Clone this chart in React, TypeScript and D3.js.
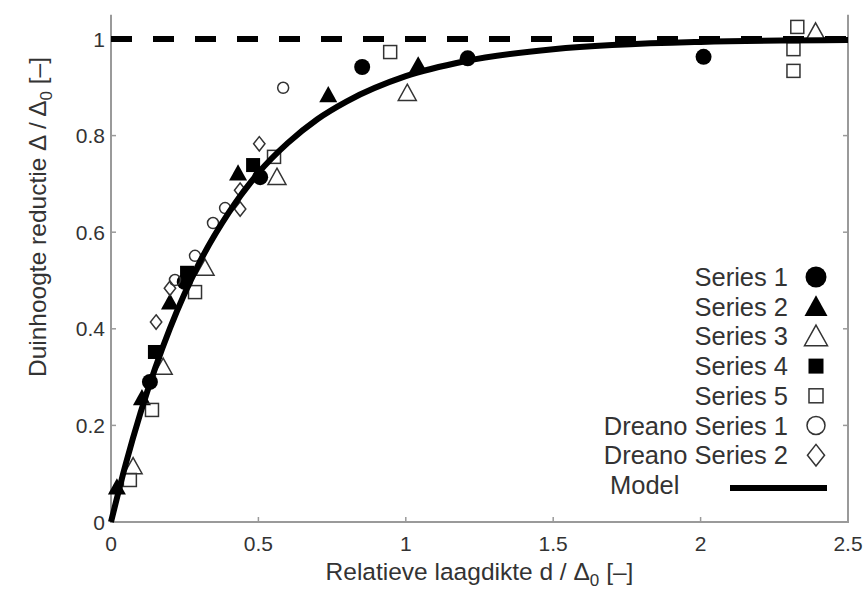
import React from "react";
import * as d3 from "d3";

const xTicks = [0, 0.5, 1, 1.5, 2, 2.5];
const yTicks = [0, 0.2, 0.4, 0.6, 0.8, 1];
const xTickLabels = ["0", "0.5", "1", "1.5", "2", "2.5"];
const yTickLabels = ["0", "0.2", "0.4", "0.6", "0.8", "1"];

const series1: [number, number][] = [[0.132, 0.29], [0.25, 0.497], [0.506, 0.714], [0.852, 0.942], [1.21, 0.96], [2.01, 0.963]];
const series2: [number, number][] = [[0.02, 0.072], [0.105, 0.257], [0.2, 0.455], [0.431, 0.722], [0.737, 0.884], [1.042, 0.946]];
const series3: [number, number][] = [[0.075, 0.115], [0.177, 0.321], [0.319, 0.526], [0.563, 0.714], [1.005, 0.888], [2.39, 1.015]];
const series4: [number, number][] = [[0.149, 0.352], [0.258, 0.516], [0.482, 0.739]];
const series5: [number, number][] = [[0.064, 0.087], [0.139, 0.232], [0.285, 0.476], [0.553, 0.756], [0.947, 0.973], [2.315, 0.979], [2.315, 0.934], [2.328, 1.025]];
const dreano1: [number, number][] = [[0.217, 0.501], [0.285, 0.551], [0.346, 0.619], [0.387, 0.65], [0.584, 0.899]];
const dreano2: [number, number][] = [[0.153, 0.414], [0.2, 0.484], [0.438, 0.648], [0.438, 0.687], [0.503, 0.783]];

const modelX = [0, 0.05, 0.1, 0.15, 0.2, 0.3, 0.4, 0.5, 0.6, 0.7, 0.8, 1.0, 1.2, 1.5, 2.0, 2.5];
const modelY = [0, 0.12, 0.226, 0.319, 0.401, 0.537, 0.641, 0.723, 0.785, 0.834, 0.871, 0.923, 0.954, 0.979, 0.994, 0.998];

const legendLabels = ["Series 1", "Series 2", "Series 3", "Series 4", "Series 5", "Dreano Series 1", "Dreano Series 2", "Model"];

type MType = "fcircle" | "ftri" | "otri" | "fsq" | "osq" | "ocirc" | "odiam";

const seriesDefs: { data: [number, number][]; type: MType }[] = [
  { data: series1, type: "fcircle" },
  { data: series2, type: "ftri" },
  { data: series3, type: "otri" },
  { data: series4, type: "fsq" },
  { data: series5, type: "osq" },
  { data: dreano1, type: "ocirc" },
  { data: dreano2, type: "odiam" },
];

const plotSize: Record<MType, number> = { fcircle: 8, ftri: 9, otri: 9, fsq: 7, osq: 6.5, ocirc: 5.5, odiam: 6 };
const legSize: Record<MType, number> = { fcircle: 10.5, ftri: 11.5, otri: 11.5, fsq: 7.5, osq: 7, ocirc: 9, odiam: 9 };

function Marker({ type, cx, cy, s }: { type: MType; cx: number; cy: number; s: number }) {
  const filled = type.startsWith("f");
  const fill = filled ? "#000" : "none";
  const stroke = filled ? "#000" : "#333";
  const sw = filled ? 0 : 1.5;
  if (type === "fcircle" || type === "ocirc") {
    return <circle cx={cx} cy={cy} r={s} fill={fill} stroke={stroke} strokeWidth={sw} />;
  }
  if (type === "ftri" || type === "otri") {
    const h = s * 1.8;
    const p = `M${cx},${cy - h * 0.55} L${cx + s},${cy + h * 0.45} L${cx - s},${cy + h * 0.45} Z`;
    return <path d={p} fill={fill} stroke={stroke} strokeWidth={sw} strokeLinejoin="miter" />;
  }
  if (type === "fsq" || type === "osq") {
    return <rect x={cx - s} y={cy - s} width={2 * s} height={2 * s} fill={fill} stroke={stroke} strokeWidth={sw} />;
  }
  const hw = s * 0.95;
  const hh = s * 1.2;
  const p = `M${cx},${cy - hh} L${cx + hw},${cy} L${cx},${cy + hh} L${cx - hw},${cy} Z`;
  return <path d={p} fill={fill} stroke={stroke} strokeWidth={sw} />;
}

export default function App() {
  const W = 867;
  const H = 591;
  const x = d3.scaleLinear().domain([0, 2.5]).range([111, 848]);
  const y = d3.scaleLinear().domain([0, 1.05]).range([522, 14.85]);
  const font = "'Liberation Sans', Arial, Helvetica, sans-serif";
  const axisColor = "#9a9a9a";

  const modelPts: [number, number][] = modelX.map((v, i) => [v, modelY[i]]);
  const line = d3
    .line<[number, number]>()
    .x((d) => x(d[0]))
    .y((d) => y(d[1]))
    .curve(d3.curveMonotoneX);

  const legX = 816;
  const legTextX = 788;
  const legY0 = 277;
  const legDy = 29.7;

  return (
    <svg width={W} height={H} style={{ position: "absolute", left: 0, top: 0, background: "#fff" }} fontFamily={font}>
      <rect x={0} y={0} width={W} height={H} fill="#fff" />
      {/* axes */}
      <line x1={x(0)} x2={x(0)} y1={y(1.05)} y2={y(0)} stroke={axisColor} strokeWidth={2} />
      <line x1={x(2.5)} x2={x(2.5)} y1={y(1.05)} y2={y(0)} stroke={axisColor} strokeWidth={2} />
      <line x1={x(0) - 1} x2={x(2.5) + 1} y1={y(0)} y2={y(0)} stroke={axisColor} strokeWidth={2} />
      {xTicks.map((t, i) => (
        <g key={"xt" + i}>
          <line x1={x(t)} x2={x(t)} y1={y(0)} y2={y(0) - 5} stroke={axisColor} strokeWidth={1.5} />
          <text x={x(t)} y={551} textAnchor="middle" fontSize={21} fill="#333">
            {xTickLabels[i]}
          </text>
        </g>
      ))}
      {yTicks.map((t, i) => (
        <g key={"yt" + i}>
          <line x1={x(0)} x2={x(0) + 5} y1={y(t)} y2={y(t)} stroke={axisColor} strokeWidth={1.5} />
          <line x1={x(2.5)} x2={x(2.5) - 5} y1={y(t)} y2={y(t)} stroke={axisColor} strokeWidth={1.5} />
          <text x={105} y={y(t) + 7.5} textAnchor="end" fontSize={21} fill="#333">
            {yTickLabels[i]}
          </text>
        </g>
      ))}
      {/* axis titles */}
      <text x={(x(0) + x(2.5)) / 2} y={580} textAnchor="middle" fontSize={24.5} fill="#333">
        Relatieve laagdikte d / Δ<tspan fontSize={17} dy={6}>0</tspan>
        <tspan dy={-6}> [–]</tspan>
      </text>
      <text transform={`translate(46,217) rotate(-90)`} textAnchor="middle" fontSize={24.5} fill="#333">
        Duinhoogte reductie Δ / Δ<tspan fontSize={17} dy={6}>0</tspan>
        <tspan dy={-6}> [–]</tspan>
      </text>
      {/* dashed asymptote */}
      <line x1={x(0)} x2={x(2.5)} y1={y(1)} y2={y(1)} stroke="#000" strokeWidth={6} strokeDasharray="21,21" />
      {/* data markers */}
      {seriesDefs.map((s, si) =>
        s.data.map((d, di) => <Marker key={`m${si}-${di}`} type={s.type} cx={x(d[0])} cy={y(d[1])} s={plotSize[s.type]} />)
      )}
      {/* model */}
      <path d={line(modelPts) || ""} fill="none" stroke="#000" strokeWidth={6} />
      {/* legend */}
      {legendLabels.map((lab, i) => {
        const cy = legY0 + i * legDy;
        const isModel = i === legendLabels.length - 1;
        return (
          <g key={"leg" + i}>
            <text x={isModel ? 610 : legTextX} y={cy + 9} textAnchor={isModel ? "start" : "end"} fontSize={25.5} fill="#333">
              {lab}
            </text>
            {isModel ? (
              <line x1={730} x2={827} y1={cy + 3} y2={cy + 3} stroke="#000" strokeWidth={6} />
            ) : (
              <Marker type={seriesDefs[i].type} cx={legX} cy={cy} s={legSize[seriesDefs[i].type]} />
            )}
          </g>
        );
      })}
    </svg>
  );
}
